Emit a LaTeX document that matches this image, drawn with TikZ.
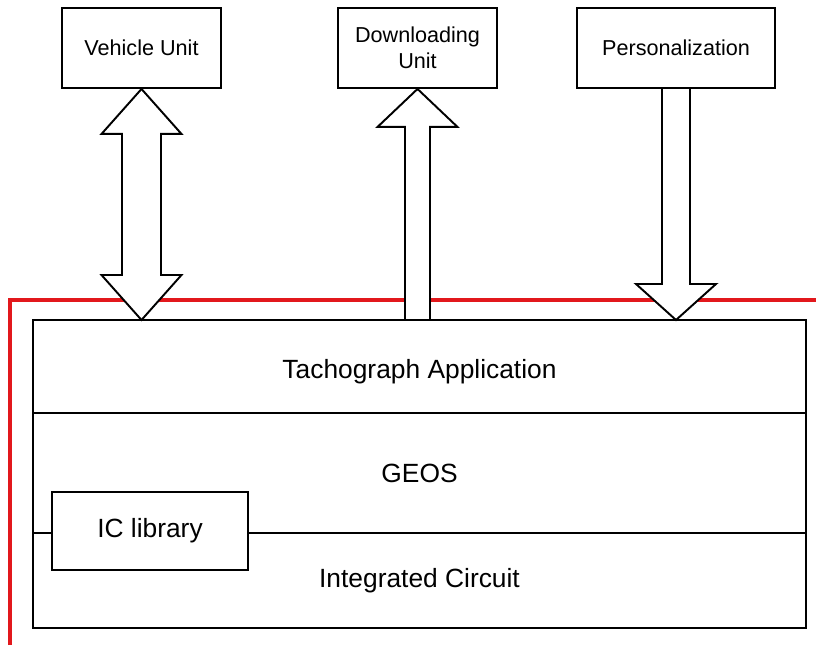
\documentclass[tikz,border=0pt]{standalone}
\usepackage{fontspec}
\setmainfont{Liberation Sans}
\usetikzlibrary{positioning,calc,backgrounds}
\definecolor{cardred}{RGB}{226,24,28}

\begin{document}
\begin{tikzpicture}[
  unit/.style={draw, line width=1.1pt, minimum height=1.6cm, align=center, font=\fontsize{12.3}{14.7}\selectfont},
  layer/.style={draw, line width=1.1pt, minimum width=15.46cm, outer sep=0pt, font=\fontsize{15}{18}\selectfont},
  fat/.style={draw, line width=1.1pt, fill=white, line join=miter}
]
  \useasboundingbox (0,0) rectangle (16.32,12.9);
\node[unit, minimum width=3.18cm] (vu) at (2.83,11.94) {Vehicle Unit};
\node[unit, minimum width=3.18cm] (du) at (8.35,11.94) {Downloading\\Unit};
\node[unit, minimum width=3.96cm] (pz) at (13.52,11.94) {Personalization};
\node[layer, minimum height=1.86cm, text height=0.58cm, text depth=0.1cm] (app) at (8.39,5.57) {Tachograph Application};
\node[layer, minimum height=2.4cm, below=0cm of app] (geos) {GEOS};
\node[layer, minimum height=1.9cm, below=0cm of geos] (ic) {Integrated Circuit};
\node[layer, minimum width=3.92cm, minimum height=1.56cm, fill=white] (lib) at (3.0,2.28) {IC library};
\coordinate (vuin) at (vu.south |- app.north);
\coordinate (duin) at (du.south |- app.north);
\coordinate (pzin) at (pz.south |- app.north);
\begin{scope}[on background layer]
\draw[cardred, line width=2.8pt] (0.2,0) |- (16.32,6.9);
\draw[fat] (vu.south) -- ++(0.8,-0.9) -- ++(-0.41,0) -- ($(vuin)+(0.39,0.9)$) -- ++(0.41,0) -- (vuin) -- ++(-0.8,0.9) -- ++(0.41,0) -- ($(vu.south)+(-0.39,-0.9)$) -- ++(-0.41,0) -- cycle;
\draw[fat] ($(duin)+(-0.25,0)$) -- ($(du.south)+(-0.25,-0.76)$) -- ++(-0.55,0) -- (du.south) -- ++(0.8,-0.76) -- ++(-0.55,0) -- ($(duin)+(0.25,0)$);
\draw[fat] ($(pz.south)+(-0.28,0)$) -- ($(pzin)+(-0.28,0.72)$) -- ++(-0.52,0) -- (pzin) -- ++(0.8,0.72) -- ++(-0.52,0) -- ($(pz.south)+(0.28,0)$);
\end{scope}
\end{tikzpicture}
\end{document}
